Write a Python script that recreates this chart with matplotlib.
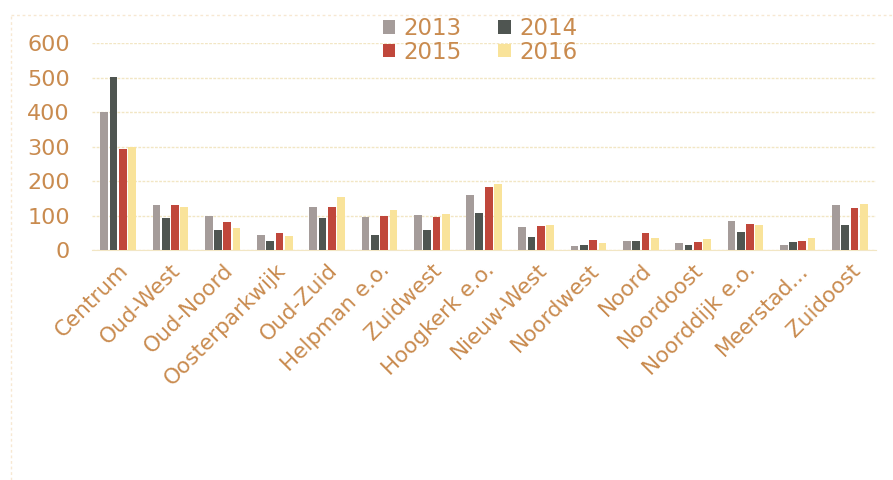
import numpy as np
import matplotlib.pyplot as plt
from matplotlib.lines import Line2D

wijken = ['Centrum', 'Oud-West', 'Oud-Noord', 'Oosterparkwijk', 'Oud-Zuid',
          'Helpman e.o.', 'Zuidwest', 'Hoogkerk e.o.', 'Nieuw-West', 'Noordwest',
          'Noord', 'Noordoost', 'Noorddijk e.o.', 'Meerstad...', 'Zuidoost']
years = ['2013', '2014', '2015', '2016']

v2013 = [400, 130, 98, 45, 125, 95, 101, 159, 66, 13, 26, 20, 83, 14, 130]
v2014 = [503, 92, 58, 27, 92, 45, 58, 108, 37, 14, 26, 14, 52, 23, 72]
v2015 = [292, 130, 82, 50, 124, 98, 95, 183, 70, 29, 50, 24, 77, 26, 121]
v2016 = [300, 125, 63, 40, 153, 116, 106, 193, 72, 21, 36, 33, 72, 35, 135]

colors = ['#A59C9A', '#4F5551', '#C0473B', '#F9E39A']
text_color = '#C98B4F'
grid_color = '#F2E6C4'

fig = plt.figure(figsize=(8.93, 4.80), dpi=100)
ax = fig.add_axes([0.103, 0.479, 0.878, 0.431])

x = np.arange(len(wijken))
pitch = 0.178
width = 0.148
bars = []
for i, (vals, yr) in enumerate(zip([v2013, v2014, v2015, v2016], years)):
    bars.append(ax.bar(x + (i - 1.5) * pitch, vals, width, color=colors[i],
                       label=yr, zorder=3))

ax.set_xlim(-0.5, len(wijken) - 0.5)
ax.set_ylim(0, 600)
ax.set_yticks(range(0, 601, 100))
ax.yaxis.grid(True, color=grid_color, linewidth=1, linestyle=(0, (2, 1)), zorder=0)
for s in ['top', 'right', 'left']:
    ax.spines[s].set_visible(False)
ax.spines['bottom'].set_color(grid_color)
ax.tick_params(axis='both', length=0, colors=text_color)
ax.tick_params(axis='y', labelsize=16, pad=16)

ax.set_xticks(x)
ax.set_xticklabels(wijken, rotation=45, ha='right', rotation_mode='anchor',
                   fontsize=15.5, color=text_color)
ax.tick_params(axis='x', pad=7)

# legend filled row by row: 2013 2014 / 2015 2016
order = [0, 2, 1, 3]
leg = ax.legend([bars[k] for k in order], [years[k] for k in order],
                loc='upper center', bbox_to_anchor=(480 / 893, 1 - 8 / 480),
                bbox_transform=fig.transFigure, ncol=2, frameon=False,
                fontsize=16.5, handlelength=0.55, handleheight=0.55, handletextpad=0.35,
                columnspacing=1.6, labelspacing=0.02, borderaxespad=0)
for t in leg.get_texts():
    t.set_color(text_color)

# faint outer frame of the chart area
frame_kw = dict(transform=fig.transFigure, color='#F7E8D2', linewidth=1,
                linestyle=(0, (2, 2)))
fig.add_artist(Line2D([11 / 893, 11 / 893], [0, 1 - 15 / 480], **frame_kw))
fig.add_artist(Line2D([11 / 893, 1], [1 - 15 / 480, 1 - 15 / 480], **frame_kw))

fig.savefig('out.png', dpi=100, facecolor='white')
